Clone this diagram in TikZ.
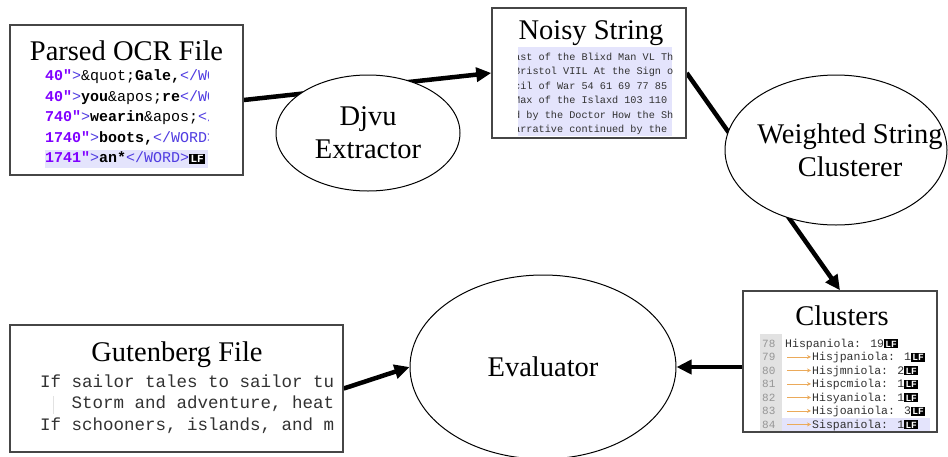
\documentclass[tikz,border=0pt]{standalone}
\usepackage{fontspec}
\setmainfont{Liberation Serif}
\newfontfamily\mono[Ligatures=TeXOff]{Liberation Mono}
\usetikzlibrary{shapes.geometric,arrows.meta}
\definecolor{boxgray}{RGB}{70,70,70}
\definecolor{attr}{RGB}{128,0,255}
\definecolor{tagc}{RGB}{80,60,225}
\definecolor{hl}{RGB}{228,228,252}
\definecolor{lnbg}{RGB}{226,226,226}
\definecolor{lngray}{RGB}{150,150,150}
\definecolor{tabor}{RGB}{235,170,90}
\definecolor{codegray}{RGB}{50,50,50}
\newcommand{\lfmark}[1]{{\setlength{\fboxsep}{1.3pt}\colorbox{black}{\textcolor{white}{\fontsize{#1}{#1}\selectfont\mono\bfseries LF}}}}
\pgfdeclarelayer{bg}
\pgfsetlayers{bg,main}
\tikzset{
  box/.style={draw=boxgray, line width=1.5pt, fill=white, rectangle, inner sep=0pt},
  proc/.style={draw=black, line width=1pt, fill=white, ellipse, inner sep=0pt, align=center, font=\fontsize{28.5}{33}\selectfont},
  flow/.style={line width=4.5pt, -{Triangle[length=15pt,width=14pt]}},
  ttl/.style={anchor=base, inner sep=0pt, font=\fontsize{28.5}{33}\selectfont},
  ocrcode/.style={anchor=base west, inner sep=0pt, font=\mono\fontsize{15}{15}\selectfont},
  noisycode/.style={anchor=base west, inner sep=0pt, text=codegray, font=\mono\fontsize{10.2}{10.2}\selectfont},
  clcode/.style={anchor=base west, inner sep=0pt, text=codegray, font=\mono\fontsize{11.5}{11.5}\selectfont},
  clnum/.style={anchor=base west, inner sep=0pt, text=lngray, font=\mono\fontsize{11}{11}\selectfont},
  tabarrow/.style={draw=tabor, line width=0.8pt, -{Stealth[length=4pt,width=4pt]}},
  gutcode/.style={anchor=base west, inner sep=0pt, text=codegray, font=\mono\fontsize{17.5}{17.5}\selectfont}
}
\begin{document}
\begin{tikzpicture}[x=1pt,y=-1pt]
\useasboundingbox (0,0) rectangle (948,456);

% ---------- boxes ----------
\node[box, minimum width=233pt, minimum height=150pt] (ocr) at (126.5,100) {};
\node[box, minimum width=194pt, minimum height=130pt] (noisy) at (589,73) {};
\node[box, minimum width=194pt, minimum height=141pt] (clusters) at (840,361.5) {};
\node[box, minimum width=333pt, minimum height=127pt] (gut) at (176.5,388.5) {};

% ---------- titles ----------
\node[ttl] (ocrt) at (126.5,60) {Parsed OCR File};
\node[ttl] (noisyt) at (591,39) {Noisy String};
\node[ttl] (clt) at (842,325) {Clusters};
\node[ttl] (gutt) at (177,361) {Gutenberg File};

% ---------- Parsed OCR code ----------
\begin{scope}
\clip (45,64) rectangle (208,170);
\fill[hl] (45,150) rectangle (208,168);
\node[ocrcode] (o1) at (45,80.5) {\textcolor{attr}{\bfseries 40"}\textcolor{tagc}{>}\&quot;{\bfseries Gale,}\textcolor{tagc}{</WORD>}};
\node[ocrcode] (o2) at (45,101) {\textcolor{attr}{\bfseries 40"}\textcolor{tagc}{>}{\bfseries you}\&apos;{\bfseries re}\textcolor{tagc}{</WORD>}};
\node[ocrcode] (o3) at (45,121.5) {\textcolor{attr}{\bfseries 740"}\textcolor{tagc}{>}{\bfseries wearin}\&apos;\textcolor{tagc}{</WORD>}};
\node[ocrcode] (o4) at (45,142) {\textcolor{attr}{\bfseries 1740"}\textcolor{tagc}{>}{\bfseries boots,}\textcolor{tagc}{</WORD>}};
\node[ocrcode] (o5) at (45,162.5) {\textcolor{attr}{\bfseries 1741"}\textcolor{tagc}{>}{\bfseries an*}\textcolor{tagc}{</WORD>}\lfmark{11}};
\end{scope}

% ---------- Noisy String code ----------
\begin{scope}
\clip (518,47) rectangle (672,136);
\fill[hl] (518,47) rectangle (672,136);
\node[noisycode] (n1) at (514,60) {ast of the Blixd Man VL The};
\node[noisycode] (n2) at (514,74.5) {Bristol VIIL At the Sign of};
\node[noisycode] (n3) at (514,89) {cil of War 54 61 69 77 85};
\node[noisycode] (n4) at (514,103.5) {Max of the Islaxd 103 110};
\node[noisycode] (n5) at (514,118) {d by the Doctor How the Sh};
\node[noisycode] (n6) at (514,132.5) {arrative continued by the};
\end{scope}

% ---------- Clusters code ----------
\fill[lnbg] (760,334) rectangle (782,431);
\fill[hl] (782,418) rectangle (930,431);
\foreach \n/\y in {78/347,79/360.5,80/374,81/387.5,82/401,83/414.5,84/428}{
  \node[clnum] (ln\n) at (762,\y) {\n};
}
\node[clcode] (c1) at (785,347) {Hispaniola: 19\lfmark{9.5}};
\foreach \y/\t in {360.5/Hisjpaniola: 1,374/Hisjmniola: 2,387.5/Hispcmiola: 1,401/Hisyaniola: 1,414.5/Hisjoaniola: 3,428/Sispaniola: 1}{
  \coordinate (ta) at (787,\y-3.6);
  \coordinate (tb) at (811,\y-3.6);
  \draw[tabarrow] (ta) -- (tb);
  \node[clcode] at (812,\y) {\t\lfmark{9.5}};
}

% ---------- Gutenberg code ----------
\begin{scope}
\clip (38,368) rectangle (333.5,440);
\node[gutcode] (g1) at (40,387) {If sailor tales to sailor tune,};
\draw[lnbg, line width=0.8pt] (53,396) -- (53,414);
\node[gutcode] (g2) at (71.5,408.5) {Storm and adventure, heat and cold,};
\node[gutcode] (g3) at (40,430) {If schooners, islands, and maroons};
\end{scope}

% ---------- process ellipses ----------
\node[proc, minimum width=184pt, minimum height=116pt] (djvu) at (368,133) {Djvu\\Extractor};
\node[proc, minimum width=222pt, minimum height=150pt] (wsc) at (836,150) {};
\node[align=center, inner sep=0pt, font=\fontsize{28.5}{33}\selectfont] (wsct) at (850,150) {Weighted String\\Clusterer};
\node[proc, minimum width=266pt, minimum height=184pt] (eval) at (543,367) {Evaluator};

% ---------- connectors ----------
\begin{pgfonlayer}{bg}
\draw[flow] (ocr.east) -- (noisy.west);
\draw[flow] (noisy.east) -- (clusters.north);
\draw[flow] (clusters.west |- eval.east) -- (eval.east);
\draw[flow] (gut.east) -- (eval.west);
\end{pgfonlayer}
\end{tikzpicture}
\end{document}
